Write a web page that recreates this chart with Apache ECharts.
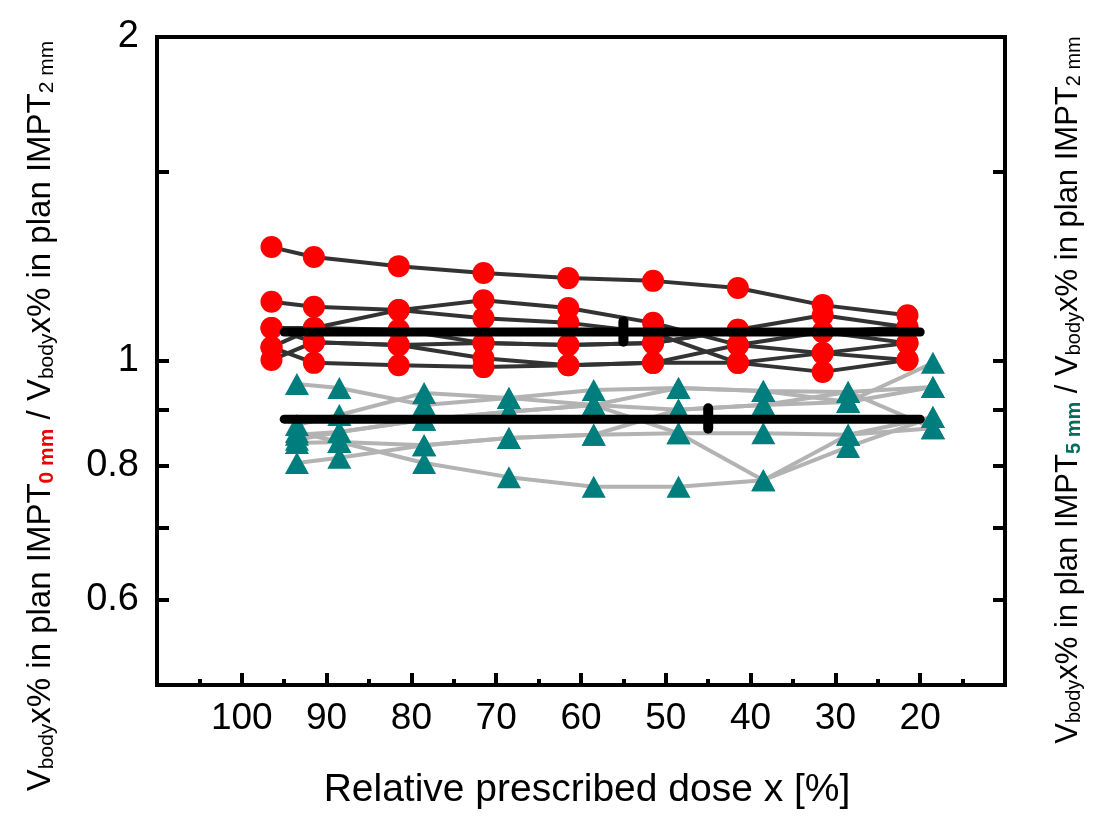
<!DOCTYPE html>
<html>
<head>
<meta charset="utf-8">
<script src="https://cdn.jsdelivr.net/npm/echarts@6/dist/echarts.min.js"></script>
<style>html,body{margin:0;padding:0;background:#fff}#c{width:1101px;height:821px}</style>
</head>
<body>
<div id="c"></div>
<script>
// Relative prescribed dose (%)
const doseRed = [96.5, 91.5, 81.5, 71.5, 61.5, 51.5, 41.5, 31.5, 21.5];
const doseTeal = [93.5, 88.5, 78.5, 68.5, 58.5, 48.5, 38.5, 28.5, 18.5];
const xTickLabels = [20, 30, 40, 50, 60, 70, 80, 90, 100];
const yTickLabels = [0.6, 0.8, 1, 2];
const yTicks = [0.6, 0.7, 0.8, 0.9, 1, 1.5, 2];

// IMPT 0 mm / IMPT 2 mm ratios (red circles)
const red1 = [1.276, 1.249, 1.225, 1.207, 1.194, 1.187, 1.169, 1.127, 1.103];
const red2 = [1.135, 1.123, 1.115, 1.139, 1.120, 1.085, 1.035, 1.064, 1.039];
const red3 = [1.073, 1.073, 1.115, 1.096, 1.085, 1.062, 0.996, 0.977, 1.002];
const red4 = [1.030, 1.073, 1.069, 1.039, 1.035, 1.039, 1.069, 1.103, 1.075];
const red5 = [1.002, 1.041, 1.035, 1.006, 0.991, 0.996, 1.035, 1.017, 1.039];
const red6 = [1.030, 0.996, 0.991, 0.987, 0.991, 0.996, 0.996, 1.017, 1.002];
const red7 = [1.073, 1.041, 1.035, 1.039, 1.035, 1.039, 1.069, 1.064, 1.075];

// IMPT 5 mm / IMPT 2 mm ratios (teal triangles)
const teal1 = [0.952, 0.944, 0.910, 0.924, 0.940, 0.944, 0.938, 0.936, 0.946];
const teal2 = [0.872, 0.891, 0.934, 0.924, 0.910, 0.944, 0.938, 0.916, 0.946];
const teal3 = [0.854, 0.859, 0.882, 0.897, 0.910, 0.901, 0.910, 0.936, 0.866];
const teal4 = [0.839, 0.841, 0.835, 0.848, 0.854, 0.901, 0.910, 0.916, 0.996];
const teal5 = [0.804, 0.813, 0.835, 0.848, 0.854, 0.857, 0.857, 0.854, 0.887];
const teal6 = [0.859, 0.841, 0.804, 0.780, 0.764, 0.764, 0.775, 0.832, 0.887];
const teal7 = [0.845, 0.859, 0.882, 0.897, 0.910, 0.857, 0.775, 0.854, 0.866];

// Mean lines and their error marks
const meanRange = [95, 20];
const redMean = 1.064;
const tealMean = 0.883;
const redErrX = 55, redErr = [1.042, 1.088];
const tealErrX = 45, tealErr = [0.865, 0.904];

const redSets = [red1, red2, red3, red4, red5, red6, red7];
const tealSets = [teal1, teal2, teal3, teal4, teal5, teal6, teal7];

const chart = echarts.init(document.getElementById('c'), null, {renderer: 'canvas'});
const FONT = "'Liberation Sans', Arial, sans-serif";

const series = [];
tealSets.forEach((arr, i) => {
  series.push({
    type: 'line', name: 'teal' + i, z: 2,
    data: arr.map((v, k) => [doseTeal[k], v]),
    symbol: 'triangle', symbolSize: [24, 22],
    itemStyle: {color: '#007d7d'},
    lineStyle: {color: '#b3b3b3', width: 4},
    animation: false, silent: true
  });
});
redSets.forEach((arr, i) => {
  series.push({
    type: 'line', name: 'red' + i, z: 3,
    data: arr.map((v, k) => [doseRed[k], v]),
    symbol: 'circle', symbolSize: 22,
    itemStyle: {color: '#ff0000'},
    lineStyle: {color: '#333333', width: 4},
    animation: false, silent: true
  });
});
[redMean, tealMean].forEach(m => {
  series.push({
    type: 'line', z: 5, symbol: 'none',
    data: meanRange.map(x => [x, m]),
    lineStyle: {color: '#000', width: 9, cap: 'round'},
    animation: false, silent: true
  });
});
[[redErrX, redErr], [tealErrX, tealErr]].forEach(e => {
  series.push({
    type: 'line', z: 6, symbol: 'none',
    data: e[1].map(v => [e[0], v]),
    lineStyle: {color: '#000', width: 10, cap: 'round'},
    animation: false, silent: true
  });
});

const yAxisBase = {
  type: 'log', logBase: 2, min: 0.5, max: 2,
  axisLine: {show: false},
  splitLine: {show: false},
  minorTick: {show: false},
  axisTick: {show: true, inside: true, length: 12, lineStyle: {color: '#000', width: 4}, customValues: yTicks},
};

function rich(sz, sub) {
  return {
    n: {fontSize: sz, fontFamily: FONT, fill: '#000', lineHeight: sz + 1},
    s: {fontSize: sub, fontFamily: FONT, fill: '#000', lineHeight: 10, verticalAlign: 'bottom'},
    r: {fontSize: sub, fontFamily: FONT, fill: '#ee0000', fontWeight: 'bold', lineHeight: 10, verticalAlign: 'bottom'},
    g: {fontSize: sub, fontFamily: FONT, fill: '#006d5b', fontWeight: 'bold', lineHeight: 10, verticalAlign: 'bottom'}
  };
}

chart.setOption({
  backgroundColor: '#fff',
  animation: false,
  grid: {left: 157, right: 96, top: 37, bottom: 136, show: true, borderColor: '#000', borderWidth: 4, backgroundColor: 'transparent'},
  xAxis: {
    type: 'value', inverse: true, min: 10, max: 110, interval: 10,
    axisLine: {show: false},
    splitLine: {show: false},
    axisTick: {show: true, inside: true, length: 12, lineStyle: {color: '#000', width: 4}, customValues: xTickLabels},
    minorTick: {show: true, splitNumber: 2, length: 6, lineStyle: {color: '#000', width: 4}},
    axisLabel: {fontSize: 37, color: '#000', fontFamily: FONT, margin: 15, customValues: xTickLabels},
    name: 'Relative prescribed dose x [%]',
    nameLocation: 'middle', nameGap: 86,
    nameTextStyle: {fontSize: 39, color: '#000', fontFamily: FONT, padding: [0, 0, 0, 12]}
  },
  yAxis: [
    Object.assign({}, yAxisBase, {
      position: 'left',
      axisLabel: {show: true, fontSize: 38, color: '#000', fontFamily: FONT, margin: 18, customValues: yTickLabels,
        formatter: v => String(Math.round(v * 10) / 10)}
    }),
    Object.assign({}, yAxisBase, {
      position: 'right',
      axisLabel: {show: false}
    })
  ],
  graphic: [
    {type: 'text', x: 41, y: 416, rotation: Math.PI / 2, z: 10,
     style: {text: '{n|V}{s|body}{n|x% in plan IMPT}{r|0 mm}{n| / V}{s|body}{n|x% in plan IMPT}{s|2 mm}',
       rich: rich(33, 21), align: 'center', verticalAlign: 'middle'}},
    {type: 'text', x: 1068, y: 390, rotation: Math.PI / 2, z: 10,
     style: {text: '{n|V}{s|body}{n|x% in plan IMPT}{g|5 mm}{n| / V}{s|body}{n|x% in plan IMPT}{s|2 mm}',
       rich: rich(31, 20), align: 'center', verticalAlign: 'middle'}}
  ],
  series: series
});
</script>
</body>
</html>
